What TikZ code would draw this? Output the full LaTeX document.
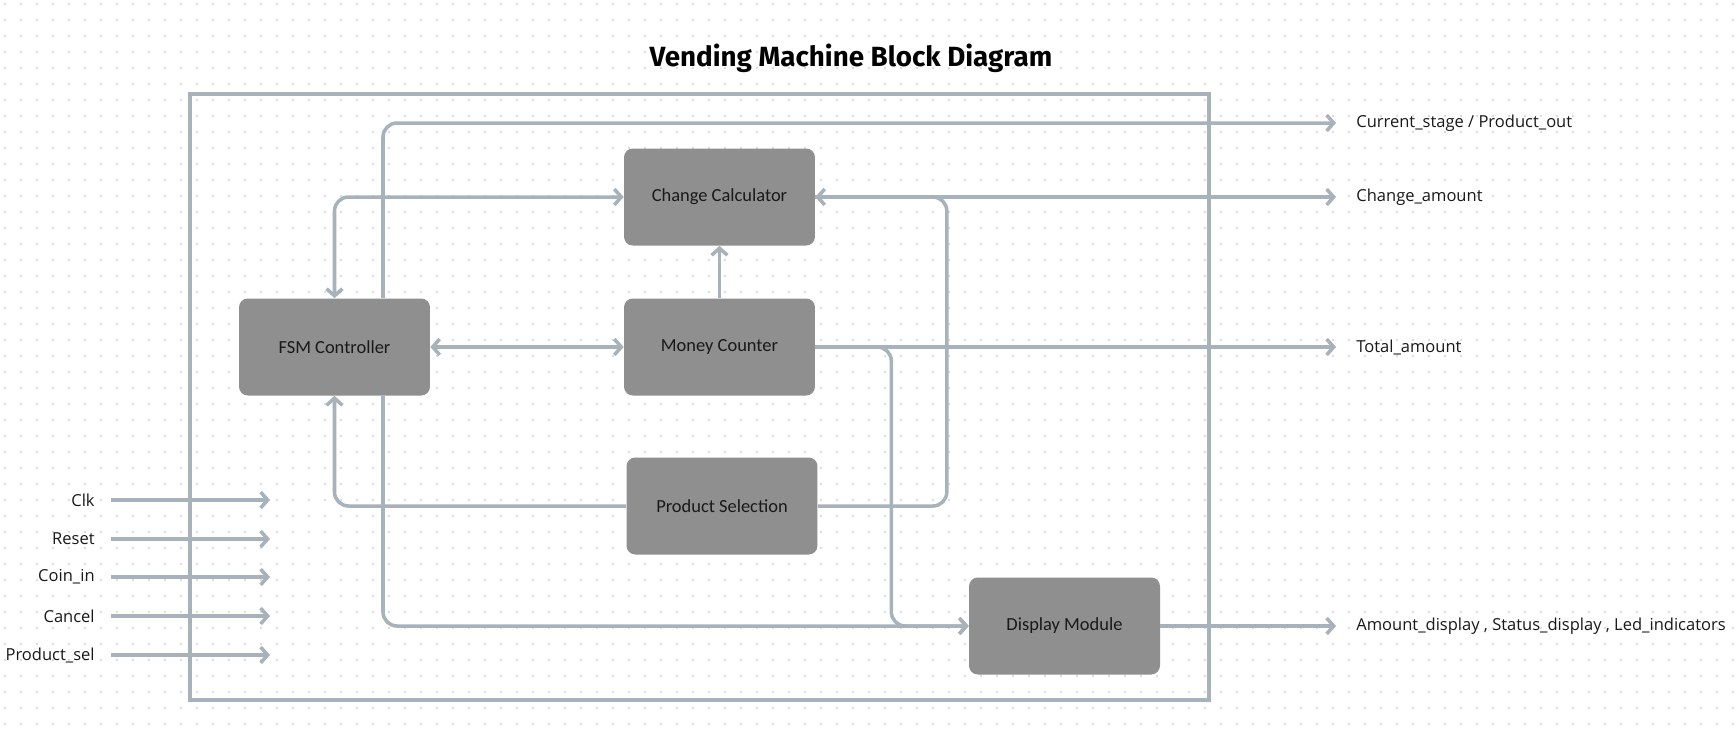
\documentclass[tikz,border=0pt]{standalone}
\usepackage{fontspec}
\usepackage{xcolor}
\usepackage{tikz}
\usetikzlibrary{arrows.meta,positioning,calc}
\setmainfont{Open Sans}
\newfontfamily\blockfont{Carlito}
\newfontfamily\titlefont{Fira Sans}

\definecolor{wire}{HTML}{A8B2BA}
\definecolor{boxgray}{HTML}{8F8F8F}
\definecolor{dotgray}{HTML}{D0D0D0}

\begin{document}
\begin{tikzpicture}[
  x=0.02cm, y=-0.02cm,
  block/.style={rectangle, rounded corners=5pt, fill=boxgray,
                minimum width=3.82cm, minimum height=1.94cm,
                text centered, font=\blockfont\fontsize{10.5}{12}\selectfont, text=black!90},
  arrow/.style={-{Straight Barb[length=4pt,width=9pt]}, line width=2pt, color=wire},
  biarrow/.style={{Straight Barb[length=4pt,width=9pt]}-{Straight Barb[length=4pt,width=9pt]},
                  line width=2pt, color=wire},
  elbow/.style={rounded corners=8pt},
  sig/.style={font=\fontsize{9.4}{11}\selectfont, text=black!90, inner sep=0pt},
  title/.style={font=\titlefont\bfseries\fontsize{15.8}{18}\selectfont}
]
  \useasboundingbox (0,0) rectangle (1736,735);
  \fill[white] (0,0) rectangle (1736,735);

  % dot grid
  \foreach \i in {0,...,108}
    \foreach \j in {0,...,45}
      \fill[dotgray] (5+16*\i, 4+16*\j) circle (0.6pt);

  \node[title] (head) at (851,58) {Vending Machine Block Diagram};

  % system boundary
  \node[draw=wire, line width=2pt, minimum width=20.38cm, minimum height=12.12cm,
        inner sep=0pt] (sys) at (699.5,397) {};

  % blocks
  \node[block] (fsm) at (334.5,347) {FSM Controller};
  \node[block] (cc)  at (719.5,197) {Change Calculator};
  \node[block] (mc)  at (719.5,347) {Money Counter};
  \node[block] (ps)  at (722,506)   {Product Selection};
  \node[block] (dm)  at (1064.5,626) {Display Module};

  % outputs
  \coordinate (o1) at (1336,123);
  \coordinate (o2) at (1336,197);
  \coordinate (o3) at (1336,347);
  \coordinate (o4) at (1336,626);
  \node[sig, right=20*0.02cm of o1] (stage) {Current\_stage / Product\_out};
  \node[sig, right=20*0.02cm of o2] (change) {Change\_amount};
  \node[sig, right=20*0.02cm of o3] (total) {Total\_amount};
  \node[sig, right=20*0.02cm of o4] (disp) {Amount\_display , Status\_display , Led\_indicators};

  % inputs
  \foreach \name/\txt/\y in {clk/Clk/500, rst/Reset/539, coin/Coin\_in/577,
                             cancel/Cancel/616, sel/Product\_sel/655} {
    \node[sig, anchor=east] (\name) at (95,\y) {\txt};
    \coordinate (\name-end) at (270,\y);
    \draw[arrow] ([xshift=16*0.02cm]\name.east) -- (\name-end);
  }

  % connections
  \draw[arrow, elbow] ($(fsm.north)+(48.5,0)$) |- (o1);
  \draw[arrow] (cc.east) -- (o2);
  \draw[arrow, elbow] (ps.east) -- ($(ps.east)+(129,0)$) |- (cc.east);
  \draw[biarrow, elbow] (fsm.north) |- (cc.west);
  \draw[biarrow] (fsm.east) -- (mc.west);
  \draw[arrow] (mc.north) -- (cc.south);
  \draw[arrow] (mc.east) -- (o3);
  \draw[arrow, elbow] (mc.east) -- ($(mc.east)+(76,0)$) |- (dm.west);
  \draw[arrow, elbow] ($(fsm.south)+(48.5,0)$) |- (dm.west);
  \draw[arrow, elbow] (ps.west) -| (fsm.south);
  \draw[arrow] (dm.east) -- (o4);
\end{tikzpicture}
\end{document}
